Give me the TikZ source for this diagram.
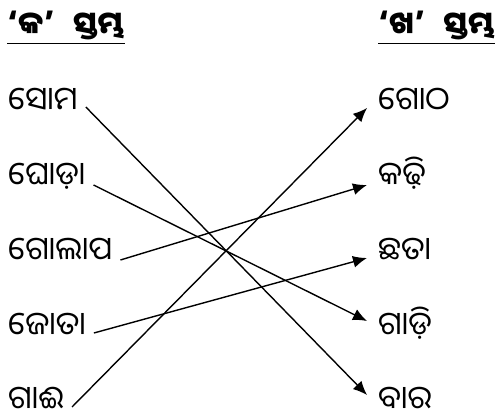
\documentclass[tikz,border=0pt]{standalone}
\usepackage{fontspec}
\newfontfamily\odia[Script=Oriya]{Noto Sans Oriya UI}
\usetikzlibrary{arrows.meta}
\begin{document}
\begin{tikzpicture}[x=1pt,y=-1pt,
  word/.style={font=\odia\fontsize{32}{34}\selectfont, inner sep=0pt, anchor=base west},
  head/.style={font=\odia\bfseries\fontsize{31}{33}\selectfont, inner sep=0pt, anchor=base west},
  link/.style={line width=1.4pt, -{Latex[length=14pt,width=12pt]}}]
\useasboundingbox (0,0) rectangle (496,419);
\node[head] (h1) at (7,37) {‘କ’\hspace{0.6em}ସ୍ତମ୍ଭ};
\node[head] (h2) at (378,37) {‘ଖ’\hspace{0.6em}ସ୍ତମ୍ଭ};
\draw[line width=1.4pt] ([yshift=-6.5pt]h1.base west) -- ([yshift=-6.5pt]h1.base east);
\draw[line width=1.4pt] ([yshift=-6.5pt]h2.base west) -- ([yshift=-6.5pt]h2.base east);
\node[word] (l1) at (8,113) {ସୋମ};
\node[word] (l2) at (8,188) {ଘୋଡ଼ା};
\node[word] (l3) at (8,263) {ଗୋଲାପ};
\node[word] (l4) at (8,338) {ଜୋତା};
\node[word] (l5) at (8,412) {ଗାଈ};
\node[word] (r1) at (378,113) {ଗୋଠ};
\node[word] (r2) at (378,188) {କଢ଼ି};
\node[word] (r3) at (378,263) {ଛତା};
\node[word] (r4) at (378,338) {ଗାଡ଼ି};
\node[word] (r5) at (378,412) {ବାର};
\draw[link] ([xshift=8pt,yshift=6pt]l1.base east) -- ([xshift=-11pt,yshift=17pt]r5.base west);
\draw[link] ([xshift=8pt,yshift=3pt]l2.base east) -- ([xshift=-11pt,yshift=17pt]r4.base west);
\draw[link] ([xshift=8pt,yshift=3pt]l3.base east) -- ([xshift=-11pt,yshift=3pt]r2.base west);
\draw[link] ([xshift=8pt,yshift=5pt]l4.base east) -- ([xshift=-11pt,yshift=5pt]r3.base west);
\draw[link] ([xshift=8pt,yshift=5pt]l5.base east) -- ([xshift=-11pt,yshift=5pt]r1.base west);
\end{tikzpicture}
\end{document}
